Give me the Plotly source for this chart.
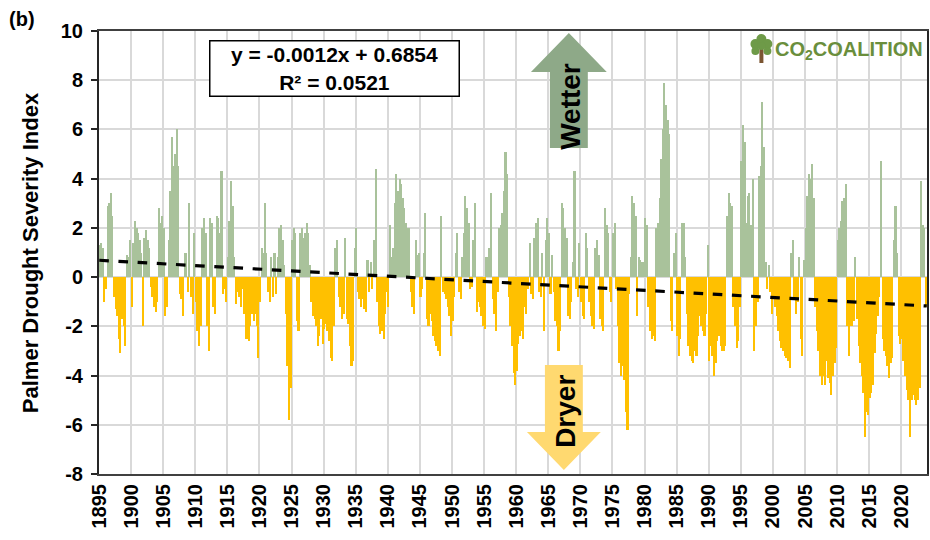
import plotly.graph_objects as go

# ---- Data: Palmer Drought Severity Index, quarterly values (Q1..Q4 per year)
START_YEAR = 1895
pdsi_1895_1909 = [
    1.3, 1.4, 1.2, -1.0,  -0.5, 2.9, 3.0, 3.4,  2.5, -0.8, -1.3, -1.6,  -2.5, -3.1, -1.7, -2.0,
    -2.8, 0.9, 0.8, 1.5,  -1.2, 1.4, 2.3, 2.0,  1.8, 1.5, 1.0, -2.0,  1.6, 1.9, 1.5, 1.2,
    -0.4, -0.8, -1.2, -1.4,  -1.0, 2.8, 2.2, 2.5,  2.0, -1.6, -1.2, 1.5,  3.5, 5.7, 4.5, 5.0,
    6.0, 4.5, -0.7, -0.9,  -1.6, 1.0, 1.0, -0.6,  3.0, -0.8, -1.5, 1.8,
]
pdsi_1910_1929 = [
    -1.0, -2.2, -2.8, -2.0,  2.0, 2.4, 1.8, -2.0,  -3.0, 2.4, 2.2, -1.2,  -1.5, 2.5, 2.4, 1.8,
    4.3, -0.7, -0.5, -1.0,  0.8, 2.3, 3.9, 2.9,  0.8, -1.1, -0.6, -0.8,  -1.2, -0.5, -1.5, -2.5,
    -2.5, -2.6, -2.0, -1.5,  -1.8, -1.5, -2.0, -3.3,  -1.0, 1.2, 1.0, 3.0,  1.0, -0.6, -1.0, 0.8,
    -0.8, 1.0, -0.7, 0.8,  2.0, 2.1, 1.5, 0.5,  -1.5, -3.6, -5.8, -4.5,  1.5, 2.0, 1.8, -1.8,
    -2.2, 1.8, 2.0, 1.6,  1.8, 2.2, 1.8, 0.5,  -1.0, -1.6, -1.7, -2.0,  -2.8, -2.4, -1.7, -2.7,
]
pdsi_1930_1949 = [
    -2.1, -1.9, -2.2, -2.6,  -3.3, -3.4, -2.0, 1.2,  1.5, -0.8, -1.2, -1.7,  -1.5, 1.6, -1.7, -1.9,
    -2.8, -3.6, -3.4, 1.2,  2.0, -0.6, -0.9, -1.2,  -0.9, -1.3, -1.4, 0.7,  -0.6, 0.6, -0.5, 1.5,
    4.4, -1.0, -2.0, -2.3,  -2.2, -2.5, -1.5, -0.6,  -1.2, 2.1, 0.8, 1.2,  3.0, 4.2, 3.5, 4.0,
    3.8, 3.2, 2.8, 2.2,  2.0, 2.0, -0.6, -1.2,  -1.5, 1.5, 0.9, 1.0,  -0.8, -0.5, 1.0, 2.6,
    -1.7, -2.0, -1.5, -1.8,  -2.4, -2.6, -2.8, -3.0,  -3.2, 2.5, -0.6, -0.7,  -0.9, -1.2, -1.6, -2.4,
]
pdsi_1950_1969 = [
    -1.8, -0.8, 1.0, 1.8,  -0.6, -0.9, 0.8, 1.8,  3.3, 2.8, 2.2, -0.5,  -0.4, 1.5, 3.0, -1.4,
    -1.0, -1.2, -1.6, -2.0,  -2.1, 0.8, 0.8, 1.2,  3.4, -0.9, -1.5, -2.2,  -0.6, 2.0, 2.1, 2.6,
    3.5, 5.1, 4.2, -0.8,  -2.0, -2.8, -3.9, -4.4,  -3.8, -2.7, -2.4, -2.2,  -2.5, -1.2, -1.5, -0.5,
    1.4, -0.7, -0.9, 1.6,  2.2, 2.4, -0.6, -0.8,  1.0, -2.2, 1.5, 2.4,  1.8, -0.7, 0.9, -0.6,
    -1.8, -2.0, -3.0, -2.2,  3.0, 2.8, 2.0, 1.6,  -1.6, -1.7, -1.0, 0.6,  4.3, -0.5, -0.8, 1.4,
]
pdsi_1970_1989 = [
    -1.0, -1.6, -1.7, 1.8,  1.2, -1.0, -1.6, -2.0,  -2.1, 1.2, 1.5, 0.9,  -1.7, -2.0, -2.2, 2.8,
    2.1, 1.8, -0.6, -1.0,  1.8, 2.2, -0.5, -2.0,  -3.5, -4.0, -3.6, -4.2,  -5.5, -6.2, -0.7, 0.8,
    3.3, 3.0, 2.5, -1.6,  0.8, 0.7, 0.6, 0.6,  2.4, 2.1, -1.2, -2.2,  -2.5, -2.4, -2.6, 2.0,
    2.2, 3.2, 4.8, 6.0,  7.9, 7.0, 6.4, 5.8,  -1.8, -2.2, 1.0, 1.8,  -2.4, -3.2, -2.5, 2.2,
    2.2, 0.8, -1.5, -2.8,  -3.2, -3.4, -3.5, -3.0,  -3.2, -2.4, -1.6, -2.0,  -2.2, -2.4, -1.5, 1.3,
]
pdsi_1990_2009 = [
    -3.4, -2.8, -3.2, -4.0,  -3.5, -2.6, -2.4, -2.8,  -3.0, -3.0, -2.8, 2.5,  3.4, 3.0, 2.9, -1.2,
    -2.0, -2.9, -2.6, -1.2,  4.7, 6.2, 5.5, 2.2,  3.3, 3.4, 2.1, 4.0,  -3.0, -2.0, -1.0, 4.1,
    4.5, 7.1, 5.3, 0.6,  -0.5, 0.5, -0.6, -1.5,  -0.8, -1.2, -1.6, -2.2,  -2.6, -2.9, -3.0, -3.2,
    -3.3, -3.4, -3.7, 1.0,  1.5, -0.8, -1.5, -1.0,  0.8, -2.5, -3.2, 0.7,  2.0, 3.3, 4.2, 4.0,
    4.6, 3.2, -1.2, -2.2,  -3.0, -4.0, -4.4, -4.0,  -4.4, -3.4, -4.1, -4.3,  -4.8, -4.0, -3.5, -2.9,
]
pdsi_2010_2023 = [
    1.5, 2.0, 2.3, 3.1,  3.2, 3.8, -2.0, -3.2,  -2.0, -2.0, -1.8, 0.8,  -1.7, -2.8, -3.5, -4.0,
    -4.7, -6.5, -5.5, -5.6,  -4.9, -4.7, -4.4, -3.1,  -2.3, -1.6, -0.8, 4.7,  -2.5, -3.0, -3.2, -3.6,
    -4.1, -3.5, -3.3, 1.5,  2.9, 1.0, -2.4, -2.7,  -2.5, -3.4, -4.0, -4.6,  -5.0, -6.5, -5.0, -4.8,
    -5.0, -5.2, -5.0, -4.5,  3.9, 2.1, 2.0, -1.2,
]

TREND_SLOPE = -0.0012      # per month (from chart label)
TREND_INTERCEPT = 0.6854
TREND_R2 = 0.0521

x_tick_years = list(range(1895, 2021, 5))
y_tick_values = list(range(-8, 11, 2))

# ---- build series
pdsi = (pdsi_1895_1909 + pdsi_1910_1929 + pdsi_1930_1949 + pdsi_1950_1969
        + pdsi_1970_1989 + pdsi_1990_2009 + pdsi_2010_2023)
xq = [START_YEAR + (i + 0.5) / 4 for i in range(len(pdsi))]
pos_x = [x for x, v in zip(xq, pdsi) if v >= 0]
pos_y = [v for v in pdsi if v >= 0]
neg_x = [x for x, v in zip(xq, pdsi) if v < 0]
neg_y = [v for v in pdsi if v < 0]
end_year = START_YEAR + len(pdsi) / 4
n_months = len(pdsi) * 3
trend_m = [1, n_months]
trend_x = [START_YEAR + (m - 0.5) / 12 for m in trend_m]
trend_y = [TREND_SLOPE * m + TREND_INTERCEPT for m in trend_m]

FONT = "Arial, Liberation Sans, sans-serif"
L, R, T, B = 99, 929, 31, 474
W, H = 930, 540


def px(x):
    return (x - L) / (R - L)


def py(y):
    return (B - y) / (B - T)


def path(points):
    return "M " + " L ".join(f"{px(a):.5f},{py(b):.5f}" for a, b in points) + " Z"


fig = go.Figure()
fig.add_trace(go.Bar(x=pos_x, y=pos_y, width=0.25, marker=dict(color="#a9c29b", line=dict(width=0)),
                     name="Wetter", hoverinfo="x+y"))
fig.add_trace(go.Bar(x=neg_x, y=neg_y, width=0.25, marker=dict(color="#FFC000", line=dict(width=0)),
                     name="Dryer", hoverinfo="x+y"))
fig.add_trace(go.Scatter(x=trend_x, y=trend_y, mode="lines",
                         line=dict(color="black", width=3.2, dash="dash"), name="Trend"))

shapes = []
# Wetter arrow (up)
shapes.append(dict(type="path", xref="paper", yref="paper", layer="above",
                   path=path([(570, 33), (608, 72), (589, 72), (589, 148), (551, 148), (551, 72), (532, 72)]),
                   fillcolor="#8ea988", line=dict(width=0)))
# Dryer arrow (down)
shapes.append(dict(type="path", xref="paper", yref="paper", layer="above",
                   path=path([(546, 365), (584, 365), (584, 432), (602, 432), (565, 470), (528, 432), (546, 432)]),
                   fillcolor="#FFD970", line=dict(width=0)))
# logo tree
shapes.append(dict(type="rect", xref="paper", yref="paper", layer="above",
                   x0=px(761), x1=px(765), y0=py(63), y1=py(46), fillcolor="#7b5532", line=dict(width=0)))
for cx, cy, r in [(757, 44, 5), (763, 39, 5), (769, 44, 5), (757, 51, 4), (769, 51, 4), (763, 46, 4)]:
    shapes.append(dict(type="circle", xref="paper", yref="paper", layer="above",
                       x0=px(cx - r), x1=px(cx + r), y0=py(cy + r), y1=py(cy - r),
                       fillcolor="#6e9a48", line=dict(width=0)))


def ann(text, x, y, size, **kw):
    d = dict(text=text, x=px(x), y=py(y), xref="paper", yref="paper", showarrow=False,
             xanchor="center", yanchor="middle", font=dict(family=FONT, size=size, color="black"))
    d.update(kw)
    return d


annotations = [
    ann("<b>(b)</b>", 22, 19, 20),
    ann("<b>Palmer Drought Severity Index</b>", 30, 253, 22, textangle=-90),
    ann(f"<b>y = {TREND_SLOPE:.4f}x + {TREND_INTERCEPT:.4f}<br>R² = {TREND_R2:.4f}</b>", 335, 69, 21,
        align="center", width=246, height=52, bgcolor="white", bordercolor="black",
        borderwidth=1.5, borderpad=1),
    ann("<b>Wetter</b>", 571, 106, 28, textangle=-90),
    ann("<b>Dryer</b>", 566, 411, 28, textangle=-90),
    dict(text="<b>CO<sub>2</sub>COALITION</b>", x=px(775), y=py(50), xref="paper", yref="paper",
         xanchor="left", yanchor="middle", showarrow=False,
         font=dict(family=FONT, size=20, color="#6a8e3c")),
]

fig.update_layout(
    width=W, height=H,
    margin=dict(l=L, r=W - R, t=T, b=H - B),
    paper_bgcolor="white", plot_bgcolor="white",
    barmode="overlay", bargap=0, showlegend=False,
    shapes=shapes, annotations=annotations,
    font=dict(family=FONT, color="black"),
    xaxis=dict(range=[START_YEAR, end_year], tickmode="array", tickvals=x_tick_years,
               ticktext=[str(y) for y in x_tick_years], tickangle=-90,
               tickfont=dict(family=FONT, size=20, color="black", weight="bold"),
               showgrid=True, gridcolor="#d9d9d9", gridwidth=1.5, zeroline=False,
               showline=True, linecolor="#404040", linewidth=2, mirror=True, ticks=""),
    yaxis=dict(range=[-8, 10], tickmode="array", tickvals=y_tick_values,
               ticktext=[str(v) for v in y_tick_values],
               tickfont=dict(family=FONT, size=20, color="black", weight="bold"),
               showgrid=True, gridcolor="#d9d9d9", gridwidth=1.5, zeroline=False,
               showline=True, linecolor="#262626", linewidth=2, mirror=True,
               ticks="outside", ticklen=6, tickwidth=2, tickcolor="#262626",
               ticklabelstandoff=4),
)

fig.write_html("out.html", config={"displayModeBar": False},
               post_script="document.body.style.margin='0';")
